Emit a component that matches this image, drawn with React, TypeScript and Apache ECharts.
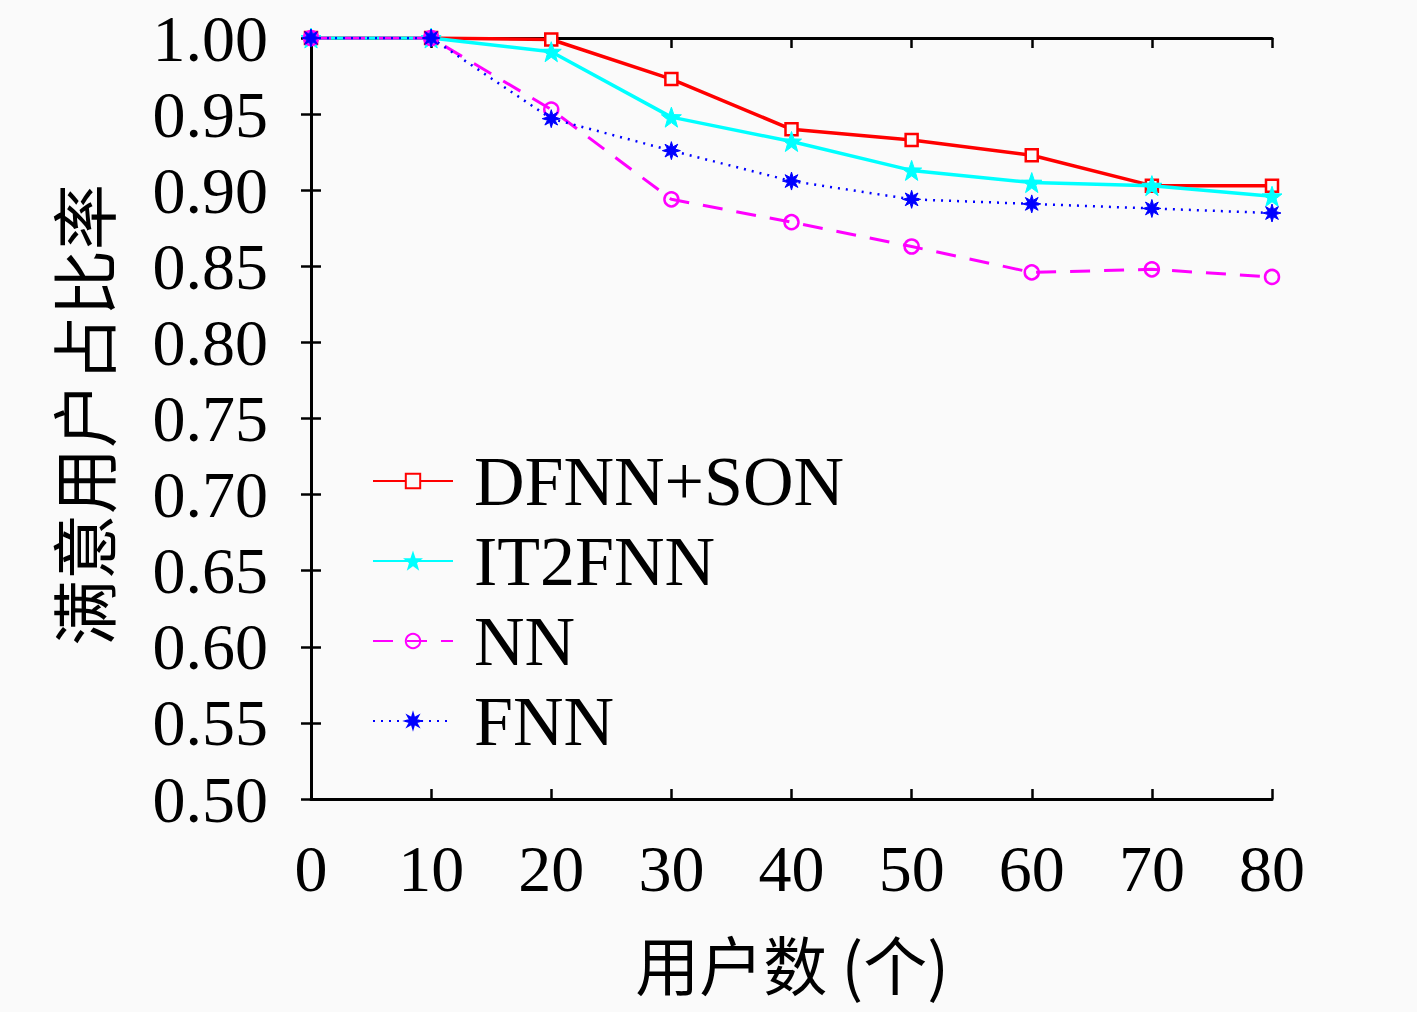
import React, { useEffect, useRef } from "react";
import * as echarts from "echarts";

const users = [0, 10, 20, 30, 40, 50, 60, 70, 80];
const dfnnSon = [1.0, 1.0, 0.999, 0.973, 0.94, 0.933, 0.923, 0.903, 0.903];
const it2fnn = [1.0, 1.0, 0.991, 0.948, 0.932, 0.913, 0.905, 0.903, 0.896];
const nn = [1.0, 1.0, 0.953, 0.894, 0.879, 0.863, 0.846, 0.848, 0.843];
const fnn = [1.0, 1.0, 0.947, 0.926, 0.906, 0.894, 0.891, 0.888, 0.885];
const seriesNames = ["DFNN+SON", "IT2FNN", "NN", "FNN"];
const yLabels = ["0.50", "0.55", "0.60", "0.65", "0.70", "0.75", "0.80", "0.85", "0.90", "0.95", "1.00"];
const xTitle = "用户数 (个)";
const yTitle = "满意用户占比率";

function starPath(points: number, outer: number, inner: number): string {
  const pts: string[] = [];
  for (let i = 0; i < points * 2; i++) {
    const r = i % 2 === 0 ? outer : inner;
    const a = (Math.PI * i) / points - Math.PI / 2;
    pts.push(`${(r * Math.cos(a)).toFixed(2)} ${(r * Math.sin(a)).toFixed(2)}`);
  }
  return "path://M" + pts.join(" L") + " Z";
}

const star5 = starPath(5, 10, 4);
const asterisk = starPath(8, 10, 4.5);

const serif = "'Liberation Serif', 'DejaVu Serif', serif";
const cjk = "'Noto Sans CJK SC', sans-serif";

export default function App() {
  const ref = useRef<HTMLDivElement>(null);
  useEffect(() => {
    document.body.style.margin = "0";
    const chart = echarts.init(ref.current!, null, { renderer: "svg" });
    const pair = (arr: number[]) => users.map((u, i) => [u, arr[i]]);
    const axisLine = { show: true, lineStyle: { color: "#000", width: 3 } };
    const tick = { show: true, inside: true, length: 10, lineStyle: { color: "#000", width: 2.5 } };
    chart.setOption({
      animation: false,
      backgroundColor: "#fafafa",
      grid: { left: 311, top: 38, width: 961, height: 761, containLabel: false },
      xAxis: [
        {
          type: "value",
          min: 0,
          max: 80,
          interval: 10,
          position: "bottom",
          axisLine,
          axisTick: tick,
          splitLine: { show: false },
          axisLabel: { fontFamily: serif, fontSize: 66, color: "#000", margin: 36 },
        },
        {
          type: "value",
          min: 0,
          max: 80,
          interval: 10,
          position: "top",
          axisLine,
          axisTick: tick,
          splitLine: { show: false },
          axisLabel: { show: false },
        },
      ],
      yAxis: [
        {
          type: "value",
          min: 0.5,
          max: 1.0,
          interval: 0.05,
          position: "left",
          axisLine,
          axisTick: tick,
          splitLine: { show: false },
          axisLabel: {
            fontFamily: serif,
            fontSize: 66,
            color: "#000",
            margin: 43,
            formatter: (v: number) => yLabels[Math.round((v - 0.5) / 0.05)] ?? v.toFixed(2),
          },
        },
        {
          type: "value",
          min: 0.5,
          max: 1.0,
          interval: 0.05,
          position: "right",
          axisLine,
          axisTick: tick,
          splitLine: { show: false },
          axisLabel: { show: false },
        },
      ],
      legend: {
        orient: "vertical",
        left: 372,
        top: 441,
        padding: 0,
        itemWidth: 80,
        itemHeight: 18,
        itemGap: 0,
        data: seriesNames,
        textStyle: { fontFamily: serif, fontSize: 70, color: "#000", lineHeight: 80, padding: [0, 0, 0, 16] },
      },
      graphic: [
        {
          type: "text",
          x: 81,
          y: 415,
          rotation: Math.PI / 2,
          style: {
            text: yTitle,
            font: `66px ${cjk}`,
            fill: "#000",
            align: "center",
            verticalAlign: "middle",
          },
        },
        {
          type: "text",
          x: 792,
          y: 962,
          style: {
            text: xTitle,
            font: `64px ${cjk}`,
            fill: "#000",
            align: "center",
            verticalAlign: "middle",
          },
        },
      ],
      series: [
        {
          name: seriesNames[0],
          type: "line",
          data: pair(dfnnSon),
          symbol: "rect",
          symbolSize: 12,
          showAllSymbol: true,
          lineStyle: { color: "#ff0000", width: 3.5, type: "solid" },
          itemStyle: { color: "#fafafa", borderColor: "#ff0000", borderWidth: 2.5 },
          z: 2,
        },
        {
          name: seriesNames[1],
          type: "line",
          data: pair(it2fnn),
          symbol: star5,
          symbolSize: 20,
          lineStyle: { color: "#00ffff", width: 3.5, type: "solid" },
          itemStyle: { color: "#00ffff", borderColor: "#00ffff", borderWidth: 1 },
          z: 3,
        },
        {
          name: seriesNames[2],
          type: "line",
          data: pair(nn),
          symbol: "circle",
          symbolSize: 14,
          lineStyle: { color: "#ff00ff", width: 3, type: [20, 14] },
          itemStyle: { color: "transparent", borderColor: "#ff00ff", borderWidth: 2.5 },
          z: 4,
        },
        {
          name: seriesNames[3],
          type: "line",
          data: pair(fnn),
          symbol: asterisk,
          symbolSize: 18,
          lineStyle: { color: "#0000ff", width: 2.5, type: [2, 6] },
          itemStyle: { color: "#0000ff", borderColor: "#0000ff", borderWidth: 1 },
          z: 5,
        },
      ],
    });
    return () => chart.dispose();
  }, []);
  return <div ref={ref} style={{ width: 1417, height: 1012 }} />;
}
